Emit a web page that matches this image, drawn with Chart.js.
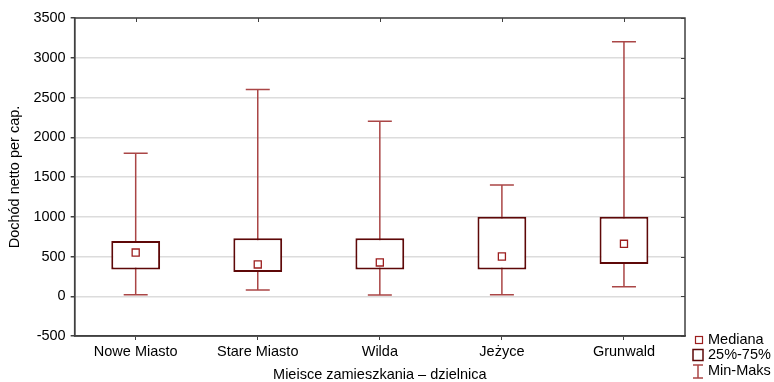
<!DOCTYPE html>
<html>
<head>
<meta charset="utf-8">
<script src="https://cdn.jsdelivr.net/npm/chart.js@4/dist/chart.umd.min.js"></script>
<style>
  html, body { margin: 0; padding: 0; background: #fff; }
  #wrap { width: 774px; height: 382px; }
</style>
</head>
<body>
<div id="wrap"><canvas id="boxChart"></canvas></div>
<script>
// Dane
const districts = ['Nowe Miasto', 'Stare Miasto', 'Wilda', 'Jeżyce', 'Grunwald'];
const minValues = [20, 80, 15, 20, 120];
const q1Values = [335, 305, 335, 335, 405];
const medianValues = [550, 400, 425, 500, 660];
const q3Values = [695, 730, 730, 1000, 1000];
const maxValues = [1800, 2600, 2200, 1400, 3200];
const legendLabels = ['Mediana', '25%-75%', 'Min-Maks'];

const boxColor = '#5e0808';
const whiskerColor = '#aa4646';
const medianColor = '#9c1e1e';
const frameColor = '#404040';
const font = { family: 'Liberation Sans, Arial, sans-serif', size: 14.5 };
const tightFont = { family: font.family, size: font.size, lineHeight: 1 };

// Wąsy min-maks rysowane pod pudełkami
const whiskerPlugin = {
    id: 'whiskers',
    beforeDatasetsDraw(chart) {
        const { ctx, scales: { x, y } } = chart;
        ctx.save();
        ctx.strokeStyle = whiskerColor;
        ctx.lineWidth = 1.5;
        districts.forEach((d, i) => {
            const cx = x.getPixelForValue(i);
            const yMin = y.getPixelForValue(minValues[i]);
            const yMax = y.getPixelForValue(maxValues[i]);
            ctx.beginPath();
            ctx.moveTo(cx, yMin);
            ctx.lineTo(cx, yMax);
            ctx.moveTo(cx - 12, yMin);
            ctx.lineTo(cx + 12, yMin);
            ctx.moveTo(cx - 12, yMax);
            ctx.lineTo(cx + 12, yMax);
            ctx.stroke();
        });
        ctx.restore();
    }
};

// Ramka wykresu, znaczniki wewnętrzne i legenda
const framePlugin = {
    id: 'frame',
    afterDraw(chart) {
        const { ctx, chartArea: a, scales: { x, y } } = chart;
        ctx.save();
        ctx.strokeStyle = frameColor;
        ctx.lineWidth = 1.5;
        ctx.strokeRect(a.left, a.top, a.right - a.left, a.bottom - a.top);
        ctx.lineWidth = 1;
        ctx.beginPath();
        districts.forEach((d, i) => {
            const cx = Math.round(x.getPixelForValue(i)) + 0.5;
            ctx.moveTo(cx, a.top);
            ctx.lineTo(cx, a.top + 4);
        });
        y.ticks.forEach(t => {
            const ty = Math.round(y.getPixelForValue(t.value)) + 0.5;
            ctx.moveTo(a.right, ty);
            ctx.lineTo(a.right - 4, ty);
        });
        ctx.stroke();

        // legenda
        const lx = a.right + 6;
        ctx.font = `${font.size}px ${font.family}`;
        ctx.fillStyle = '#000';
        ctx.textBaseline = 'middle';
        const rows = [340, 355, 371];
        legendLabels.forEach((label, i) => ctx.fillText(label, lx + 17, rows[i]));

        ctx.lineWidth = 1.2;
        ctx.strokeStyle = medianColor;
        ctx.strokeRect(lx + 4.5, rows[0] - 3.5, 7, 7);
        ctx.lineWidth = 1.5;
        ctx.strokeStyle = boxColor;
        ctx.strokeRect(lx + 2, rows[1] - 5.5, 10, 11);
        ctx.strokeStyle = whiskerColor;
        ctx.beginPath();
        ctx.moveTo(lx + 7, rows[2] - 6);
        ctx.lineTo(lx + 7, rows[2] + 7);
        ctx.moveTo(lx + 2, rows[2] - 6);
        ctx.lineTo(lx + 12, rows[2] - 6);
        ctx.moveTo(lx + 2, rows[2] + 7);
        ctx.lineTo(lx + 12, rows[2] + 7);
        ctx.stroke();
        ctx.restore();
    }
};

const ctx = document.getElementById('boxChart').getContext('2d');
new Chart(ctx, {
    data: {
        labels: districts,
        datasets: [{
            type: 'bar',
            label: '25%-75%',
            data: districts.map((d, i) => [q1Values[i], q3Values[i]]),
            backgroundColor: '#ffffff',
            borderColor: boxColor,
            borderWidth: 2,
            borderSkipped: false,
            barPercentage: 0.4,
            categoryPercentage: 1,
            order: 2
        }, {
            type: 'line',
            label: 'Mediana',
            data: medianValues,
            showLine: false,
            pointStyle: 'rect',
            pointRadius: 5,
            pointBorderWidth: 1.3,
            pointBackgroundColor: '#ffffff',
            pointBorderColor: medianColor,
            order: 1
        }]
    },
    options: {
        responsive: true,
        maintainAspectRatio: false,
        animation: false,
        layout: { padding: { top: 18, right: 89, left: 0, bottom: 0 } },
        plugins: {
            legend: { display: false },
            tooltip: { enabled: false }
        },
        scales: {
            x: {
                offset: true,
                grid: { drawOnChartArea: false, tickLength: 4, tickColor: frameColor, offset: false },
                border: { color: frameColor, width: 1.5 },
                ticks: { color: '#000', font: tightFont, padding: 5 },
                title: {
                    display: true,
                    text: 'Mieisce zamieszkania – dzielnica',
                    color: '#000',
                    font: tightFont,
                    padding: { top: 3, bottom: 0 }
                }
            },
            y: {
                min: -500,
                max: 3500,
                grid: { color: '#dcdcdc', lineWidth: 1.5, tickLength: 4, tickColor: frameColor },
                border: { color: frameColor, width: 1.5 },
                ticks: {
                    stepSize: 500,
                    color: '#000',
                    font: font,
                    padding: 5,
                    callback: v => String(v)
                },
                title: {
                    display: true,
                    text: 'Dochód netto per cap.',
                    color: '#000',
                    font: font,
                    padding: { top: 6, bottom: 5 }
                }
            }
        }
    },
    plugins: [whiskerPlugin, framePlugin]
});
</script>
</body>
</html>
